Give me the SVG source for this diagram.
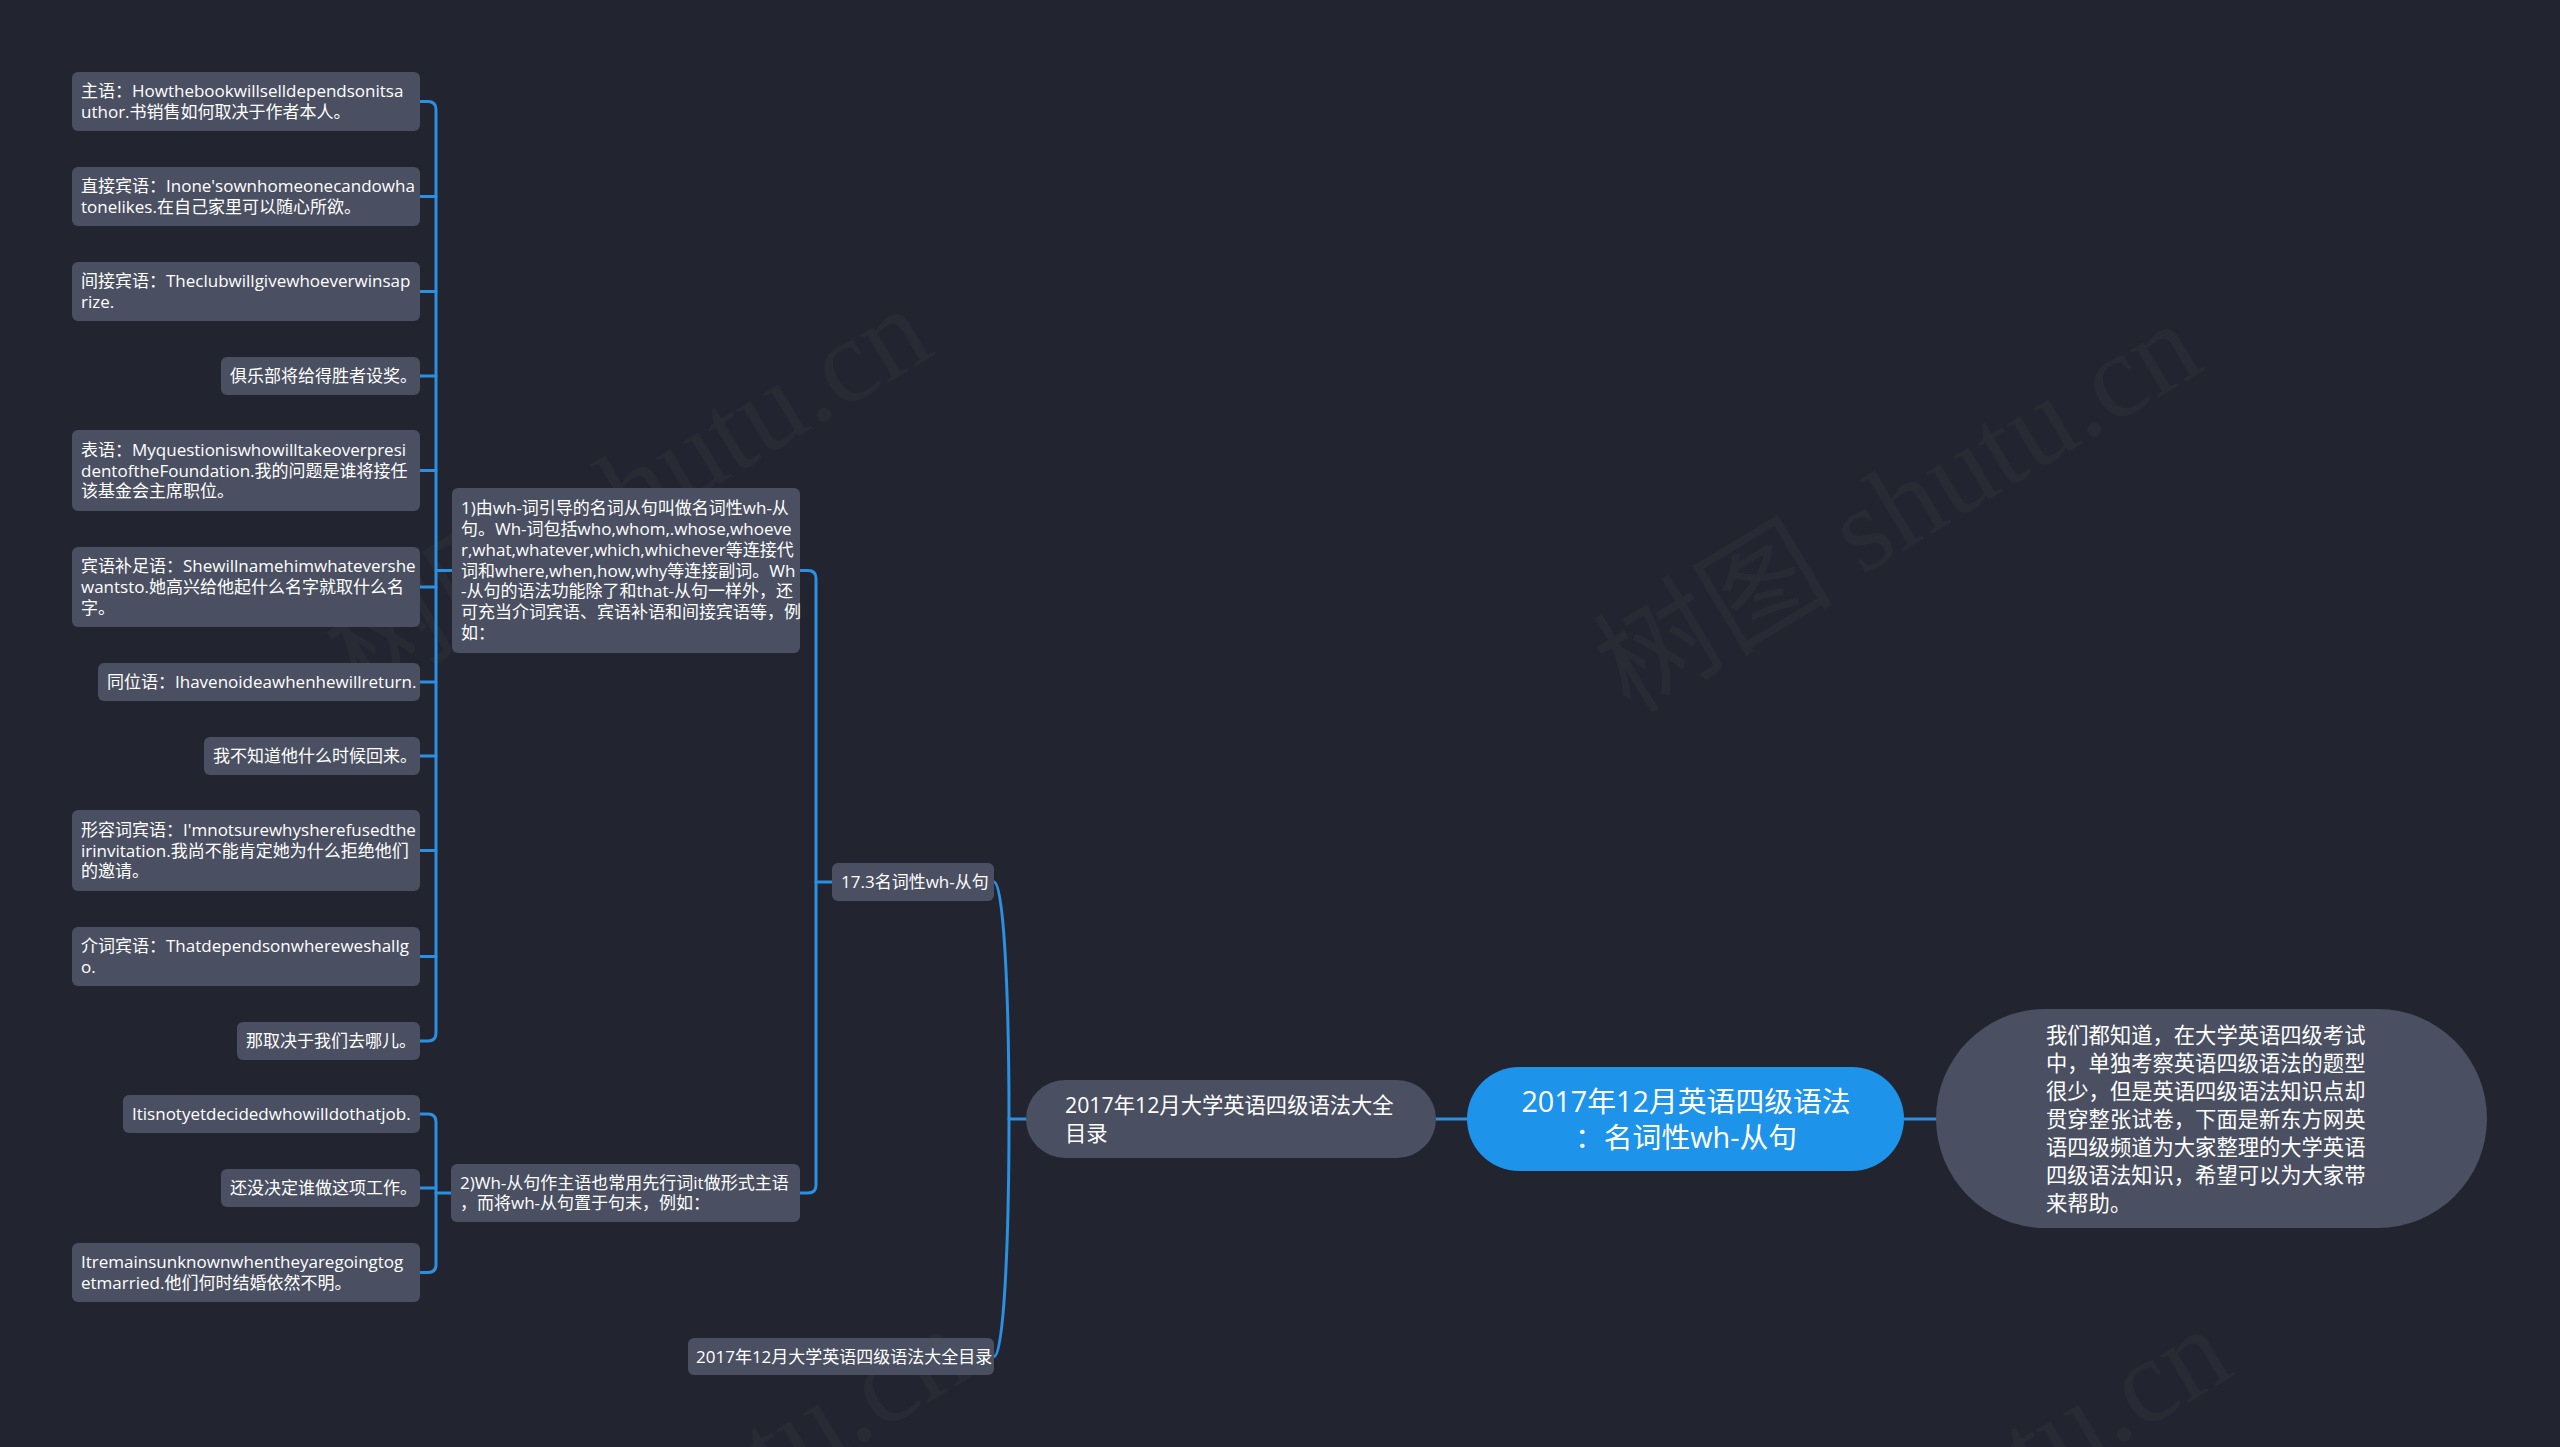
<svg xmlns="http://www.w3.org/2000/svg" width="2560" height="1447" viewBox="0 0 2560 1447">
<defs>
<style>
.bg{fill:#22252f}
.node{fill:#4a5062}
.t{font-family:"Open Sans","Noto Sans CJK SC",sans-serif;font-size:17px;fill:#ffffff}
.tm{font-family:"Open Sans","Noto Sans CJK SC",sans-serif;font-size:21.3px;fill:#ffffff}
.tb{font-family:"Open Sans","Noto Sans CJK SC",sans-serif;font-size:28.8px;fill:#ffffff;text-anchor:middle}
.conn path{fill:none;stroke:#2b8fe2;stroke-width:3;stroke-linecap:round;stroke-linejoin:round}
.wm{font-family:"Liberation Serif","Noto Sans CJK SC",serif;font-size:120px;fill:#ffffff;fill-opacity:0.028}
</style>
</defs>
<rect class="bg" x="0" y="0" width="2560" height="1447"/>
<g id="watermark">
<text class="wm" transform="translate(1630,715) rotate(-31)">树图 shutu.cn</text>
<text class="wm" transform="translate(360,700) rotate(-31)">树图 shutu.cn</text>
<text class="wm" transform="translate(1660,1720) rotate(-31)">树图 shutu.cn</text>
<text class="wm" transform="translate(400,1720) rotate(-31)">树图 shutu.cn</text>
</g>
<g id="connectors" class="conn">
<path d="M420,101.5 H428 Q436,101.5 436,109.5 V1033 Q436,1041 428,1041 H420"/>
<path d="M420,196.5 H436"/>
<path d="M420,291.5 H436"/>
<path d="M420,376 H436"/>
<path d="M420,470.5 H436"/>
<path d="M420,587 H436"/>
<path d="M420,682 H436"/>
<path d="M420,756 H436"/>
<path d="M420,850.5 H436"/>
<path d="M420,956.5 H436"/>
<path d="M436,570.5 H452"/>
<path d="M420,1114 H428 Q436,1114 436,1122 V1264.5 Q436,1272.5 428,1272.5 H420"/>
<path d="M420,1188 H436"/>
<path d="M436,1193 H451"/>
<path d="M800,570.5 H808 Q816,570.5 816,578.5 V1185 Q816,1193 808,1193 H800"/>
<path d="M816,882 H832"/>
<path d="M994,882 C1004,882 1009,1000 1009,1119 C1009,1238 1004,1356.5 994,1356.5"/>
<path d="M1009,1119 H1026"/>
<path d="M1436,1119 H1467"/>
<path d="M1904,1119 H1936"/>
</g>
<g id="n1"><rect class="node" x="72" y="72" width="348" height="59" rx="6"/>
<text class="t" x="81" y="97.1">主语：Howthebookwillselldependsonitsa</text>
<text class="t" x="81" y="117.9">uthor.书销售如何取决于作者本人。</text></g>
<g id="n2"><rect class="node" x="72" y="167" width="348" height="59" rx="6"/>
<text class="t" x="81" y="192.1">直接宾语：Inone'sownhomeonecandowha</text>
<text class="t" x="81" y="212.9">tonelikes.在自己家里可以随心所欲。</text></g>
<g id="n3"><rect class="node" x="72" y="262" width="348" height="59" rx="6"/>
<text class="t" x="81" y="287.1">间接宾语：Theclubwillgivewhoeverwinsap</text>
<text class="t" x="81" y="307.9">rize.</text></g>
<g id="n4"><rect class="node" x="221" y="357" width="199" height="38" rx="6"/>
<text class="t" x="230" y="382">俱乐部将给得胜者设奖。</text></g>
<g id="n5"><rect class="node" x="72" y="430" width="348" height="81" rx="6"/>
<text class="t" x="81" y="455.7">表语：Myquestioniswhowilltakeoverpresi</text>
<text class="t" x="81" y="476.5">dentoftheFoundation.我的问题是谁将接任</text>
<text class="t" x="81" y="497.3">该基金会主席职位。</text></g>
<g id="n6"><rect class="node" x="72" y="547" width="348" height="80" rx="6"/>
<text class="t" x="81" y="572.2">宾语补足语：Shewillnamehimwhatevershe</text>
<text class="t" x="81" y="593">wantsto.她高兴给他起什么名字就取什么名</text>
<text class="t" x="81" y="613.8">字。</text></g>
<g id="n7"><rect class="node" x="98" y="663" width="322" height="38" rx="6"/>
<text class="t" x="107" y="688">同位语：Ihavenoideawhenhewillreturn.</text></g>
<g id="n8"><rect class="node" x="204" y="737" width="216" height="38" rx="6"/>
<text class="t" x="213" y="762">我不知道他什么时候回来。</text></g>
<g id="n9"><rect class="node" x="72" y="810" width="348" height="81" rx="6"/>
<text class="t" x="81" y="835.7">形容词宾语：I'mnotsurewhysherefusedthe</text>
<text class="t" x="81" y="856.5">irinvitation.我尚不能肯定她为什么拒绝他们</text>
<text class="t" x="81" y="877.3">的邀请。</text></g>
<g id="n10"><rect class="node" x="72" y="927" width="348" height="59" rx="6"/>
<text class="t" x="81" y="952.1">介词宾语：Thatdependsonwhereweshallg</text>
<text class="t" x="81" y="972.9">o.</text></g>
<g id="n11"><rect class="node" x="237" y="1022" width="183" height="38" rx="6"/>
<text class="t" x="246" y="1047">那取决于我们去哪儿。</text></g>
<g id="n12"><rect class="node" x="123" y="1095" width="297" height="38" rx="6"/>
<text class="t" x="132" y="1120">Itisnotyetdecidedwhowilldothatjob.</text></g>
<g id="n13"><rect class="node" x="221" y="1169" width="199" height="38" rx="6"/>
<text class="t" x="230" y="1194">还没决定谁做这项工作。</text></g>
<g id="n14"><rect class="node" x="72" y="1243" width="348" height="59" rx="6"/>
<text class="t" x="81" y="1268.1">Itremainsunknownwhentheyaregoingtog</text>
<text class="t" x="81" y="1288.9">etmarried.他们何时结婚依然不明。</text></g>
<g id="p1"><rect class="node" x="452" y="488" width="348" height="165" rx="6"/>
<text class="t" x="461" y="514.1">1)由wh-词引导的名词从句叫做名词性wh-从</text>
<text class="t" x="461" y="534.9">句。Wh-词包括who,whom,.whose,whoeve</text>
<text class="t" x="461" y="555.7">r,what,whatever,which,whichever等连接代</text>
<text class="t" x="461" y="576.5">词和where,when,how,why等连接副词。Wh</text>
<text class="t" x="461" y="597.3">-从句的语法功能除了和that-从句一样外，还</text>
<text class="t" x="461" y="618.1">可充当介词宾语、宾语补语和间接宾语等，例</text>
<text class="t" x="461" y="638.9">如：</text></g>
<g id="p2"><rect class="node" x="451" y="1164" width="349" height="58" rx="6"/>
<text class="t" x="460" y="1188.6">2)Wh-从句作主语也常用先行词it做形式主语</text>
<text class="t" x="460" y="1209.4">，而将wh-从句置于句末，例如：</text></g>
<g id="s1"><rect class="node" x="832" y="863" width="162" height="38" rx="6"/>
<text class="t" x="841" y="888">17.3名词性wh-从句</text></g>
<g id="s2"><rect class="node" x="688" y="1338" width="306" height="37" rx="6"/>
<text class="t" x="696" y="1362.5">2017年12月大学英语四级语法大全目录</text></g>
<g id="m1"><rect class="node" x="1026" y="1080" width="410" height="78" rx="39"/>
<text class="tm" x="1065" y="1112.5">2017年12月大学英语四级语法大全</text>
<text class="tm" x="1065" y="1140.5">目录</text></g>
<g id="root"><rect x="1467" y="1067" width="437" height="104" rx="52" fill="#1e93ea"/>
<text class="tb" x="1686" y="1111.7">2017年12月英语四级语法</text>
<text class="tb" x="1686" y="1148.4">：名词性wh-从句</text></g>
<g id="intro"><rect class="node" x="1936" y="1009" width="551" height="219" rx="109.5"/>
<text class="tm" x="2046" y="1043">我们都知道，在大学英语四级考试</text>
<text class="tm" x="2046" y="1071">中，单独考察英语四级语法的题型</text>
<text class="tm" x="2046" y="1099">很少，但是英语四级语法知识点却</text>
<text class="tm" x="2046" y="1127">贯穿整张试卷，下面是新东方网英</text>
<text class="tm" x="2046" y="1155">语四级频道为大家整理的大学英语</text>
<text class="tm" x="2046" y="1183">四级语法知识，希望可以为大家带</text>
<text class="tm" x="2046" y="1211">来帮助。</text></g>
</svg>
